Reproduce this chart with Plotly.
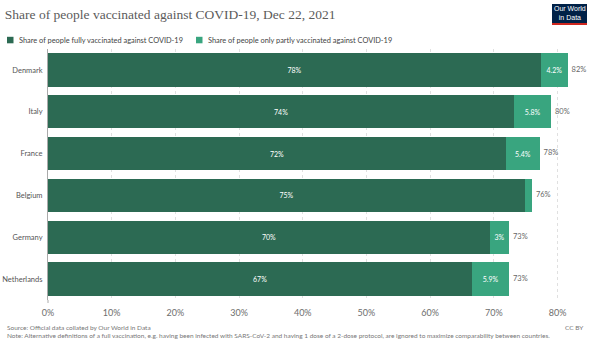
import plotly.graph_objects as go

countries = ["Denmark", "Italy", "France", "Belgium", "Germany", "Netherlands"]
full = [77.4, 73.2, 71.9, 74.9, 69.4, 66.6]
partial = [4.2, 5.8, 5.3, 1.1, 3.0, 5.8]
full_labels = ["78%", "74%", "72%", "75%", "70%", "67%"]
partial_labels = ["4.2%", "5.8%", "5.4%", "", "3%", "5.9%"]
total_labels = ["82%", "80%", "78%", "76%", "73%", "73%"]
tick_vals = [0, 10, 20, 30, 40, 50, 60, 70, 80]
tick_text = ["0%", "10%", "20%", "30%", "40%", "50%", "60%", "70%", "80%"]
series_names = ["Share of people fully vaccinated against COVID-19",
                "Share of people only partly vaccinated against COVID-19"]

FULL_C = "#2c6a53"
PART_C = "#39a57f"
FONT = "Lato"

totals = [f + p for f, p in zip(full, partial)]

fig = go.Figure()
fig.add_trace(go.Bar(
    y=countries, x=full, orientation="h", marker_color=FULL_C,
    marker_line_width=0, name=series_names[0], showlegend=False,
    text=full_labels, textposition="inside", insidetextanchor="middle",
    textfont=dict(color="white", size=7, family=FONT), textangle=0,
))
fig.add_trace(go.Bar(
    y=countries, x=partial, orientation="h", marker_color=PART_C,
    marker_line_width=0, name=series_names[1], showlegend=False,
    text=partial_labels, textposition="inside", insidetextanchor="middle",
    textfont=dict(color="white", size=7, family=FONT), textangle=0,
))
fig.add_trace(go.Scatter(
    y=countries, x=totals, mode="text", text=["  " + t for t in total_labels],
    textposition="middle right", textfont=dict(color="#666", size=7.5, family=FONT),
    showlegend=False, hoverinfo="skip", cliponaxis=False,
))

L, R, T, B = 48, 17, 49, 46
W, H = 600, 346
pw, ph = W - L - R, H - T - B

def px_x(px):
    return (px - L) / pw

def px_y(py):
    return (H - B - py) / ph

shapes = [
    dict(type="rect", xref="paper", yref="paper",
         x0=px_x(552), x1=px_x(587), y0=px_y(25), y1=px_y(4),
         fillcolor="#002147", line_width=0, layer="above"),
    dict(type="rect", xref="paper", yref="paper",
         x0=px_x(552), x1=px_x(587), y0=px_y(25), y1=px_y(23),
         fillcolor="#ce261e", line_width=0, layer="above"),
    dict(type="rect", xref="paper", yref="paper",
         x0=px_x(7), x1=px_x(13.5), y0=px_y(43.3), y1=px_y(36.8),
         fillcolor=FULL_C, line_width=0),
    dict(type="rect", xref="paper", yref="paper",
         x0=px_x(196), x1=px_x(202.5), y0=px_y(43.3), y1=px_y(36.8),
         fillcolor=PART_C, line_width=0),
    dict(type="line", xref="paper", yref="paper",
         x0=0, x1=0, y0=px_y(303), y1=0, line=dict(color="#aaaaaa", width=1)),
]

annotations = [
    dict(text="Our World<br>in Data", xref="paper", yref="paper",
         x=px_x(569.5), y=px_y(13.5), xanchor="center", yanchor="middle",
         showarrow=False, font=dict(size=7, color="white", family="Liberation Sans")),
    dict(text=series_names[0], xref="paper", yref="paper",
         x=px_x(16.5), y=px_y(40), xanchor="left", yanchor="middle",
         showarrow=False, font=dict(size=7.4, color="#444", family=FONT)),
    dict(text=series_names[1], xref="paper", yref="paper",
         x=px_x(205.5), y=px_y(40), xanchor="left", yanchor="middle",
         showarrow=False, font=dict(size=7.4, color="#444", family=FONT)),
    dict(text="Source: Official data collated by Our World in Data",
         xref="paper", yref="paper", x=px_x(5), y=px_y(327.5),
         xanchor="left", yanchor="middle", showarrow=False,
         font=dict(size=6.5, color="#777", family=FONT)),
    dict(text="Note: Alternative definitions of a full vaccination, e.g. having been infected with SARS-CoV-2 and having 1 dose of a 2-dose protocol, are ignored to maximize comparability between countries.",
         xref="paper", yref="paper", x=px_x(5), y=px_y(335.5),
         xanchor="left", yanchor="middle", showarrow=False,
         font=dict(size=6.5, color="#777", family=FONT)),
    dict(text="CC BY", xref="paper", yref="paper", x=px_x(586), y=px_y(327.5),
         xanchor="right", yanchor="middle", showarrow=False,
         font=dict(size=6.5, color="#777", family=FONT)),
]

fig.update_layout(
    width=W, height=H,
    margin=dict(l=L, r=R, t=T, b=B, autoexpand=False),
    barmode="stack", bargap=0.2,
    paper_bgcolor="white", plot_bgcolor="white",
    font=dict(family=FONT, color="#5b5b5b"),
    showlegend=False,
    title=dict(
        text="Share of people vaccinated against COVID-19, Dec 22, 2021",
        x=0.008, xref="container", xanchor="left",
        y=1 - 14 / H, yref="container", yanchor="middle",
        font=dict(family="Liberation Serif", size=13.5, color="#5b5b5b"),
    ),
    xaxis=dict(
        range=[0, 84], tickvals=tick_vals, ticktext=tick_text,
        showgrid=True, gridcolor="#e0e0e0", griddash="dot", gridwidth=1,
        zeroline=False, showline=False, automargin=False,
        tickfont=dict(size=9, color="#6d6d6d", family=FONT),
        ticks="", ticklabelstandoff=6,
    ),
    yaxis=dict(
        categoryorder="array", categoryarray=countries[::-1],
        showgrid=False, zeroline=False, automargin=False,
        showline=True, linecolor="#aaaaaa", linewidth=1,
        tickfont=dict(size=7.5, color="#555", family=FONT),
        ticks="", ticklabelstandoff=3,
    ),
    shapes=shapes,
    annotations=annotations,
)

fig.write_html("out.html")
